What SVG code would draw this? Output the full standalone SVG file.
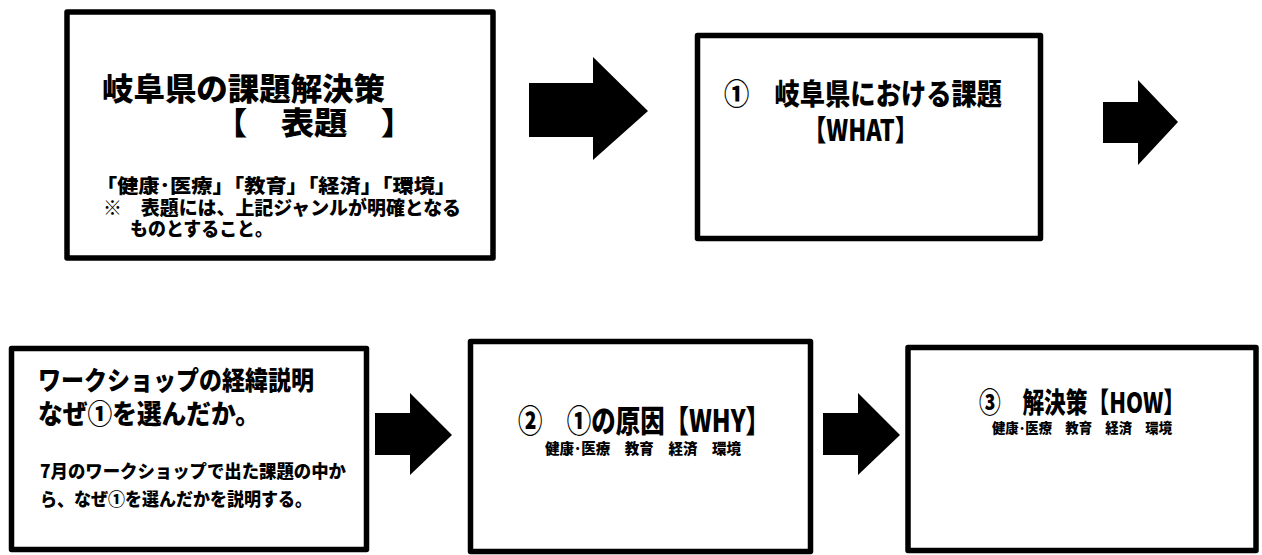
<svg xmlns="http://www.w3.org/2000/svg" width="1262" height="555" viewBox="0 0 1262 555">
<style>
.box{fill:#fff;stroke:#000;stroke-width:5.5;stroke-linejoin:round}
.arrow{fill:#000;stroke:none}
text{font-family:"Noto Sans CJK JP","Noto Sans CJK SC",sans-serif;font-weight:900;fill:#000}
</style>
<rect width="1262" height="555" fill="#fff"/>
<g id="connectors">
<polygon class="arrow" points="529,83 593,83 593,57 648,111 593,160 593,137 529,137"/>
<polygon class="arrow" points="1103,102 1138,102 1138,80 1178,122 1138,165 1138,143 1103,143"/>
<polygon class="arrow" points="375,413 410,413 410,393 452,435 410,475 410,455 375,455"/>
<polygon class="arrow" points="823,413 858,413 858,393 900,435 858,475 858,455 823,455"/>
</g>
<g id="node-title">
<rect class="box" x="67" y="12" width="426" height="246"/>
<text x="102" y="100" font-size="31" textLength="283" lengthAdjust="spacingAndGlyphs">岐阜県の課題解決策</text>
<text x="214" y="134" font-size="31" textLength="200" lengthAdjust="spacingAndGlyphs">【　表題　】</text>
<text x="96" y="193" font-size="19" textLength="360" lengthAdjust="spacingAndGlyphs">「健康･医療」「教育」「経済」「環境」</text>
<text x="103" y="215" font-size="19" textLength="358" lengthAdjust="spacingAndGlyphs">※　表題には、上記ジャンルが明確となる</text>
<text x="130" y="236" font-size="19" textLength="143" lengthAdjust="spacingAndGlyphs">ものとすること。</text>
</g>
<g id="node-what">
<rect class="box" x="697.5" y="35.5" width="343" height="203"/>
<text x="724" y="105" font-size="29" textLength="278" lengthAdjust="spacingAndGlyphs">①　岐阜県における課題</text>
<text x="803" y="141" font-size="29" textLength="115" lengthAdjust="spacingAndGlyphs">【WHAT】</text>
</g>
<g id="node-workshop">
<rect class="box" x="11.5" y="348.5" width="355" height="201"/>
<text x="38" y="390" font-size="26" textLength="276" lengthAdjust="spacingAndGlyphs">ワークショップの経緯説明</text>
<text x="38" y="424" font-size="27" textLength="222" lengthAdjust="spacingAndGlyphs">なぜ①を選んだか。</text>
<text x="40" y="478" font-size="18" textLength="306" lengthAdjust="spacingAndGlyphs">7月のワークショップで出た課題の中か</text>
<text x="40" y="506" font-size="18" textLength="272" lengthAdjust="spacingAndGlyphs">ら、なぜ①を選んだかを説明する。</text>
</g>
<g id="node-why">
<rect class="box" x="470.5" y="341.5" width="340" height="210"/>
<text x="518" y="432" font-size="31" textLength="252" lengthAdjust="spacingAndGlyphs">②　①の原因【WHY】</text>
<text x="545" y="454" font-size="14.5" textLength="196" lengthAdjust="spacingAndGlyphs">健康･医療　教育　経済　環境</text>
</g>
<g id="node-how">
<rect class="box" x="908" y="347.5" width="348" height="203"/>
<text x="979" y="413" font-size="28" textLength="206" lengthAdjust="spacingAndGlyphs">③　解決策【HOW】</text>
<text x="992" y="433" font-size="14" textLength="180" lengthAdjust="spacingAndGlyphs">健康･医療　教育　経済　環境</text>
</g>
</svg>
